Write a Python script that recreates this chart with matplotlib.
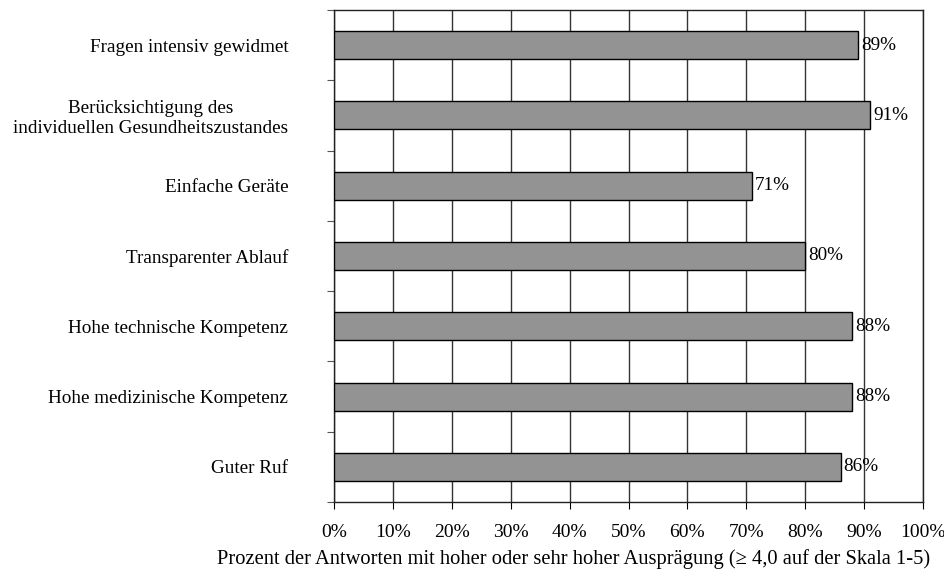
import numpy as np
import matplotlib.pyplot as plt
from matplotlib.ticker import MultipleLocator, PercentFormatter

plt.rcParams["font.family"] = ["Liberation Serif", "DejaVu Serif"]

categories = [
    "Fragen intensiv gewidmet",
    "Berücksichtigung des\nindividuellen Gesundheitszustandes",
    "Einfache Geräte",
    "Transparenter Ablauf",
    "Hohe technische Kompetenz",
    "Hohe medizinische Kompetenz",
    "Guter Ruf",
]
values = [89, 91, 71, 80, 88, 88, 86]
xlabel = "Prozent der Antworten mit hoher oder sehr hoher Ausprägung (≥ 4,0 auf der Skala 1-5)"

fs = 13.8

fig = plt.figure(figsize=(9.45, 5.71), dpi=100)
ax = fig.add_axes([334 / 945, 1 - 502 / 571, 589 / 945, 492 / 571])

# first category at the top
y = np.arange(len(categories))[::-1]
ax.barh(y, values, height=0.4, color="#939393", edgecolor="black",
        linewidth=1.0, zorder=3)
for yi, v in zip(y, values):
    ax.text(v + 0.5, yi, f"{v}%", va="center", ha="left", fontsize=fs, zorder=2)

ax.set_xlim(0, 100)
ax.set_ylim(-0.5, len(categories) - 0.5)
ax.xaxis.set_major_locator(MultipleLocator(10))
ax.xaxis.set_major_formatter(PercentFormatter(decimals=0))
ax.grid(axis="x", color="#333333", linewidth=1.0, zorder=1)
ax.set_axisbelow(True)

# ticks between categories, labels at the category centres
ax.set_yticks(np.arange(-0.5, len(categories)), minor=False)
ax.set_yticklabels([])
ax.set_yticks(y, minor=True)
ax.set_yticklabels(categories, minor=True, multialignment="center")
ax.tick_params(axis="y", which="minor", length=0, pad=33, labelsize=fs)
ax.tick_params(axis="y", which="major", length=5, color="#555555")
ax.tick_params(axis="x", length=5, pad=11, labelsize=14)

for s in ax.spines.values():
    s.set_linewidth(1.0)
    s.set_color("#222222")

ax.set_xlabel(xlabel, fontsize=14.8)
ax.xaxis.set_label_coords((574 - 334) / 589, -(549 - 502) / 492)

fig.savefig("out.png", dpi=100)
